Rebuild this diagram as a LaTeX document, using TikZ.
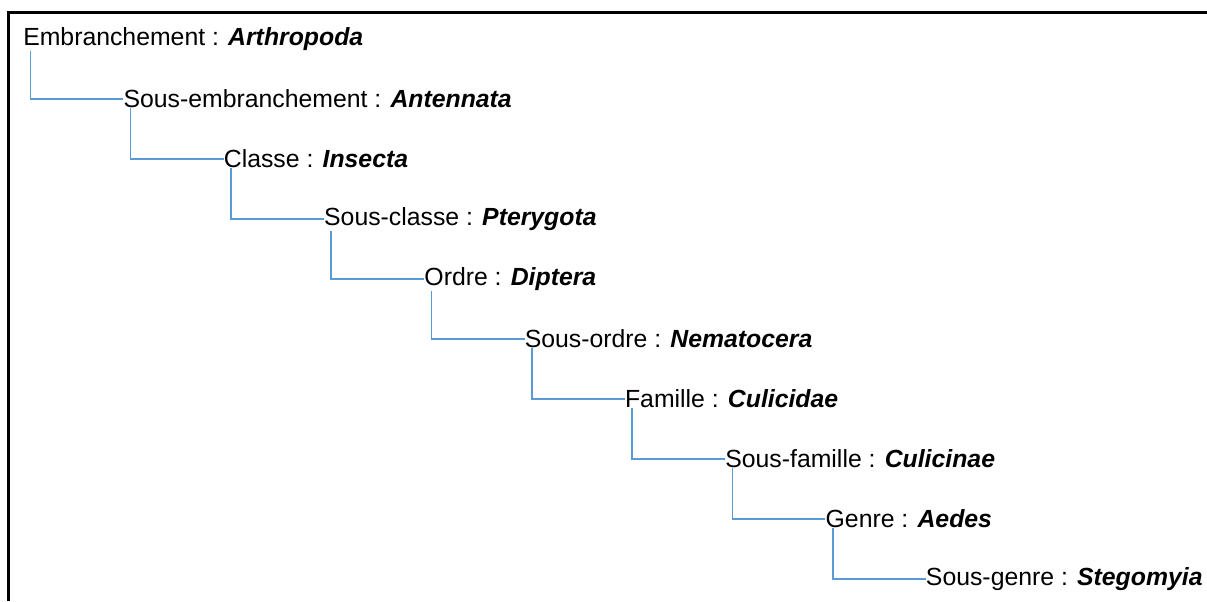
\documentclass[tikz,border=0pt]{standalone}
\usepackage{fontspec}
\setmainfont{Liberation Sans}
\definecolor{linkblue}{RGB}{91,155,213}
\newcommand{\taxon}[1]{\textbf{\textit{#1}}}

\begin{document}
\begin{tikzpicture}[x=0.75pt, y=-0.75pt,
    rank/.style={anchor=west, inner sep=0pt, font=\fontsize{18.6}{21}\selectfont},
    link/.style={linkblue, line width=1.2pt},
    frame/.style={black, line width=1.6pt}]

  \useasboundingbox (0,0) rectangle (1207,601);
  \draw[frame] (8.5,601) |- (1207,12.5);

  \foreach \i/\lvl/\nom in {0/Embranchement/Arthropoda,
      1/Sous-embranchement/Antennata, 2/Classe/Insecta,
      3/Sous-classe/Pterygota, 4/Ordre/Diptera,
      5/Sous-ordre/Nematocera, 6/Famille/Culicidae,
      7/Sous-famille/Culicinae, 8/Genre/Aedes,
      9/Sous-genre/Stegomyia}
    \node[rank] (n\i) at ({23+100.3*\i},{39+60*\i}) {\lvl\ : \taxon{\nom}};

  \foreach \i [count=\j from 1] in {0,...,8}
    \draw[link] ([xshift=5.5pt]n\i.south west) |- (n\j.west);
\end{tikzpicture}
\end{document}
